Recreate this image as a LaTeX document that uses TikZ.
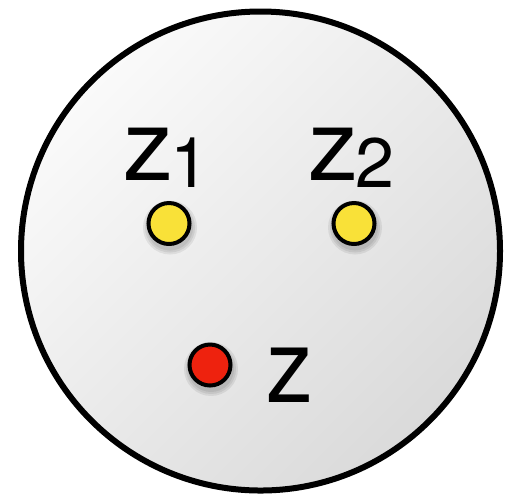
\documentclass[tikz,border=0pt]{standalone}
\usepackage{fontspec}
\setmainfont{TeX Gyre Heros}
\definecolor{dotyellow}{RGB}{249,225,56}
\definecolor{dotred}{RGB}{238,34,14}
\definecolor{bglight}{RGB}{250,250,250}
\definecolor{bgdark}{RGB}{218,218,218}
\tikzset{
  dot/.style={circle, draw=black, line width=2pt, minimum size=20.5pt, inner sep=0pt},
  dotshadow/.style={fill=black, opacity=0.07},
  lbl/.style={inner sep=0pt, anchor=base west, font=\fontsize{50}{50}\selectfont}
}
\begin{document}
\begin{tikzpicture}[x=0.5pt,y=-0.5pt]
\useasboundingbox (0,0) rectangle (508,495);
\shade[top color=bglight, bottom color=bgdark, shading angle=45] (260.5,251) circle[radius=239.5];
\draw[line width=3pt] (260.5,251) circle[radius=239.5];
% shadows
\foreach \p in {(169,223.5),(354,223.5),(210,365)}{
  \foreach \r in {23,25,27}{
    \fill[dotshadow] \p ++(1,4) circle[radius=\r];
  }
}
\node[dot, fill=dotyellow] (z1dot) at (169,223.5) {};
\node[dot, fill=dotyellow] (z2dot) at (354,223.5) {};
\node[dot, fill=dotred] (zdot) at (210,365) {};
\node[lbl] (z1lbl) at (123,180) {z\kern-1.5pt\raisebox{-3.5pt}{\fontsize{35}{35}\selectfont 1}};
\node[lbl] (z2lbl) at (308,180) {z\kern-1.5pt\raisebox{-3.5pt}{\fontsize{35}{35}\selectfont 2}};
\node[lbl, font=\fontsize{52}{52}\selectfont, xscale=0.9] (zlbl) at (266,402) {z};
\end{tikzpicture}
\end{document}
